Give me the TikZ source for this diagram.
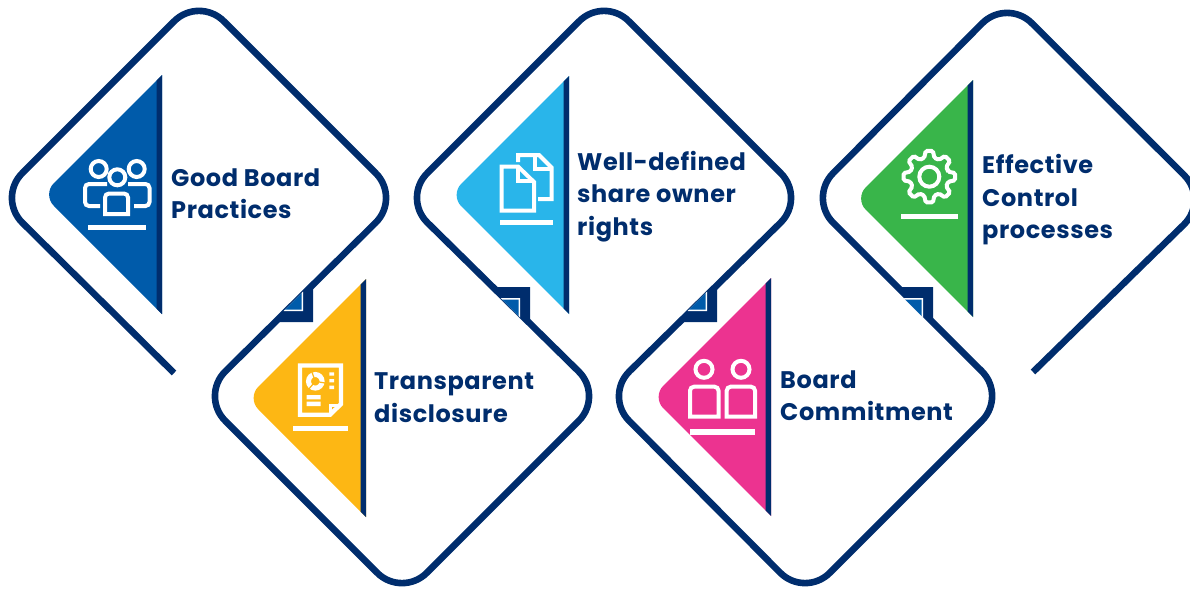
\documentclass[tikz,border=0pt]{standalone}
\usepackage{fontspec}
\setmainfont{Poppins}[LetterSpace=2.5]
\definecolor{navy}{HTML}{002D6D}
\definecolor{boardblue}{HTML}{005BAA}
\definecolor{skyblue}{HTML}{29B5EA}
\definecolor{ctrlgreen}{HTML}{39B54A}
\definecolor{amber}{HTML}{FDB714}
\definecolor{rosepink}{HTML}{EC3390}
\tikzset{
  ribbon/.style={draw=navy,line width=6.6pt,rounded corners=35pt},
  icon/.style={draw=white,line width=4pt,fill=none},
  label/.style={anchor=west,inner sep=0pt,align=left,text=navy,
    font=\fontsize{24}{32.5}\selectfont\bfseries}
}
\begin{document}
\begin{tikzpicture}[x=1pt,y=-1pt]
\useasboundingbox (0,0) rectangle (1190,589);

% colour panels: strip edge, top, bottom, colour
\foreach \sx/\ty/\by/\col in {162/75/314/boardblue,569/76/314/skyblue,973/80/317/ctrlgreen,366/279/517/amber,771/278/516/rosepink}{
  \pgfmathsetmacro{\half}{(\by-\ty)/2}
  \pgfmathsetmacro{\my}{(\by+\ty)/2}
  \fill[\col] (\sx,\ty) [rounded corners=16pt] -- (\sx-\half,\my) [sharp corners] -- (\sx,\by) -- cycle;
  \fill[navy] (\sx,\ty) -- (\sx-5.5,\ty+5.5) -- (\sx-5.5,\by-5.5) -- (\sx,\by) -- cycle;
}

% corners behind the ribbon
\foreach \cx/\cy/\sy in {313/322/1,717/322/1,530/287/-1,933/287/-1}{
  \begin{scope}[shift={(\cx,\cy)},yscale=\sy]
    \fill[navy] (0,0) -- (0,-37) -- (-37,0) -- cycle;
  \end{scope}
}

% the line that runs through all five diamonds
\coordinate (start) at (174,373);
\coordinate (goodL) at (-2.6,198);
\coordinate (goodT) at (199,-3.6);
\coordinate (goodR) at (400.6,198);
\coordinate (tranL) at (200.4,396);
\coordinate (tranB) at (402,597.6);
\coordinate (tranR) at (603.6,396);
\coordinate (wellL) at (402.4,198);
\coordinate (wellT) at (604,-3.6);
\coordinate (wellR) at (805.6,198);
\coordinate (commL) at (604.4,396);
\coordinate (commB) at (805,597.6);
\coordinate (commR) at (1006.6,396);
\coordinate (effeL) at (808.4,198);
\coordinate (effeT) at (1007,-1.6);
\coordinate (effeR) at (1209,200);
\coordinate (stop) at (1033,372);
\draw[ribbon] (start) -- (goodL) -- (goodT) -- (goodR) -- (tranL) -- (tranB) -- (tranR)
  -- (wellL) -- (wellT) -- (wellR) -- (commL) -- (commB) -- (commR) -- (effeL) -- (effeT)
  -- (effeR) -- (stop);

% small triangles over the ribbon
\foreach \cx/\cy/\sy in {313/322/1,717/322/1,530/287/-1,933/287/-1}{
  \begin{scope}[shift={(\cx,\cy)},yscale=\sy]
    \fill[white] (-10,-11) -- (-10,-30.5) -- (-29.5,-11) -- cycle;
    \fill[boardblue] (-11.5,-12.5) -- (-11.5,-29) -- (-28,-12.5) -- cycle;
  \end{scope}
}

% labels
\node[label] (good) at (171,193.5) {Good Board\\Practices};
\node[label] (well) at (577,196.5) {Well-defined\\share owner\\rights};
\node[label] (effe) at (982,200) {Effective\\Control\\processes};
\node[label] (tran) at (374,397.5) {Transparent\\disclosure};
\node[label] (comm) at (780,395.5) {Board\\Commitment};

% underlines
\fill[white] (88,225) rectangle (146,230);
\fill[white] (500,220) rectangle (553,225);
\fill[white] (901,214) rectangle (958,219);
\fill[white] (293,425.7) rectangle (348,430.7);
\fill[white] (690,429) rectangle (755,435);

% people
\draw[icon] (98.7,169) circle (8) (136.7,169) circle (8) (117.3,177.3) circle (8);
\draw[icon,rounded corners=4pt] (107,184) -- (85,184) -- (85,206) -- (100,206);
\draw[icon,rounded corners=4pt] (128,184) -- (149.5,184) -- (149.5,206) -- (134,206);
\draw[icon] (105,214) [rounded corners=4pt] -- (105,193.5) -- (128,193.5) [sharp corners] -- (128,214) -- cycle;

% documents
\draw[icon] (501.5,166.5) -- (518,166.5) -- (534,182) -- (534,210.5) -- (501.5,210.5) -- cycle;
\draw[icon] (518,166.5) -- (518,181) -- (534,181);
\draw[icon] (518,162) -- (518,155) -- (539,155) -- (551.5,167.5) -- (551.5,199) -- (538,199);
\draw[icon] (535,155) -- (535,169) -- (551.5,169);

% gear
\begin{scope}[shift={(929.3,176.7)}]
  \draw[icon] (0,0) circle (10);
  \draw[icon,rounded corners=1.5pt] (-15:19.5) \foreach \a in {0,45,...,315}{
    -- (\a-15:19.5) -- (\a-8:26) -- (\a+8:26) -- (\a+15:19.5)} -- cycle;
\end{scope}

% report
\draw[icon,line width=4.4pt] (330,414.7) -- (300,414.7) -- (300,365.5) -- (341,365.5) -- (341,404) -- cycle;
\draw[icon,line width=3pt] (330,414.7) -- (330,405) -- (341,405);
\draw[white,line width=5pt] (315.3,381.3) circle (6.8);
\draw[amber,line width=1.2pt] (315.3,381.3) -- ++(10:11) (315.3,381.3) -- ++(130:11) (315.3,381.3) -- ++(250:11);
\fill[white] (329.3,372.3) rectangle (334,375.7) (329.3,379) rectangle (334,382.4) (329.3,385.6) rectangle (334,389);
\fill[white] (306.7,395) rectangle (320.7,399.3) (306.7,401.7) rectangle (320.7,406);

% two people
\draw[icon] (704,369.3) circle (8.5) (741,369.3) circle (8.5);
\draw[icon] (690,416.7) [rounded corners=4pt] -- (690,386.7) -- (718.5,386.7) [sharp corners] -- (718.5,416.7) -- cycle;
\draw[icon] (726.7,416.7) [rounded corners=4pt] -- (726.7,386.7) -- (755,386.7) [sharp corners] -- (755,416.7) -- cycle;
\end{tikzpicture}
\end{document}
